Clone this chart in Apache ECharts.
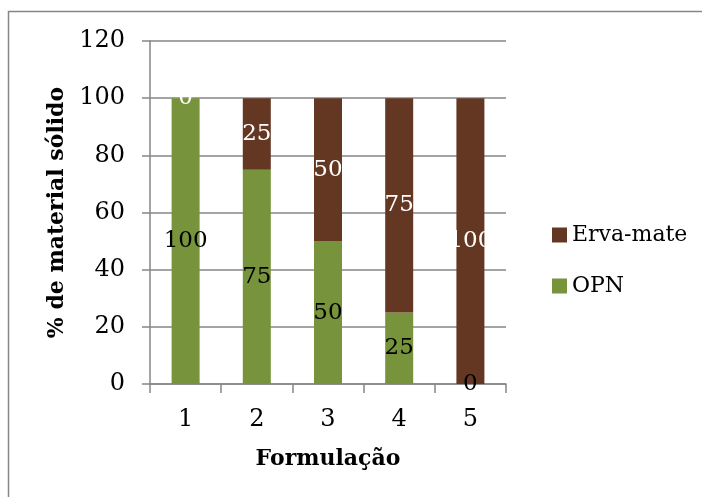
<!DOCTYPE html>
<html><head><meta charset="utf-8">
<script src="https://cdn.jsdelivr.net/npm/echarts@6/dist/echarts.min.js"></script>
<style>html,body{margin:0;padding:0;background:#fff}#c{width:702px;height:497px}</style>
</head><body><div id="c"></div>
<script>
const categories = ['1','2','3','4','5'];
const opn = [100, 75, 50, 25, 0];
const ervaMate = [0, 25, 50, 75, 100];
const yTicks = [0, 20, 40, 60, 80, 100, 120];

const FONT = 'DejaVu Serif';
const GRAY = '#868686';
const chart = echarts.init(document.getElementById('c'), null, {renderer: 'canvas'});
chart.setOption({
  animation: false,
  backgroundColor: '#fff',
  textStyle: {fontFamily: FONT},
  graphic: [{type: 'polyline', shape: {points: [[8.5, 520], [8.5, 11.5], [720, 11.5]]}, style: {fill: 'none', stroke: GRAY, lineWidth: 1.5}, silent: true}],
  grid: {left: 150, top: 41, right: 196, bottom: 113},
  legend: {
    orient: 'vertical', left: 547, top: 219, itemWidth: 15, itemHeight: 15, itemGap: 29,
    icon: 'rect', data: ['Erva-mate', 'OPN'],
    textStyle: {fontFamily: FONT, fontSize: 22, color: '#000'}
  },
  xAxis: {
    type: 'category', data: categories,
    name: 'Formulação', nameLocation: 'middle', nameGap: 64,
    nameTextStyle: {fontFamily: FONT, fontSize: 22, fontWeight: 'bold', color: '#000'},
    axisLine: {lineStyle: {color: GRAY, width: 1.5}},
    axisTick: {show: true, length: 9, lineStyle: {color: GRAY, width: 1.5}},
    axisLabel: {fontFamily: FONT, fontSize: 24, color: '#000', margin: 24}
  },
  yAxis: {
    type: 'value', min: yTicks[0], max: yTicks[yTicks.length - 1], interval: 20,
    name: '% de material sólido', nameLocation: 'middle', nameGap: 78,
    nameTextStyle: {fontFamily: FONT, fontSize: 22, fontWeight: 'bold', color: '#000'},
    axisLine: {show: true, lineStyle: {color: GRAY, width: 1.5}},
    axisTick: {show: true, length: 8, lineStyle: {color: GRAY, width: 1.5}},
    splitLine: {lineStyle: {color: GRAY, width: 1.5}},
    axisLabel: {fontFamily: FONT, fontSize: 24, color: '#000', margin: 25}
  },
  series: [
    {name: 'OPN', type: 'bar', stack: 's', data: opn, barWidth: 28,
     itemStyle: {color: '#77933C'},
     label: {show: true, position: 'inside', fontFamily: FONT, fontSize: 23, color: '#000'}},
    {name: 'Erva-mate', type: 'bar', stack: 's', data: ervaMate, barWidth: 28,
     itemStyle: {color: '#643723'},
     label: {show: true, position: 'inside', fontFamily: FONT, fontSize: 23, color: '#fff'}}
  ]
});
</script></body></html>
